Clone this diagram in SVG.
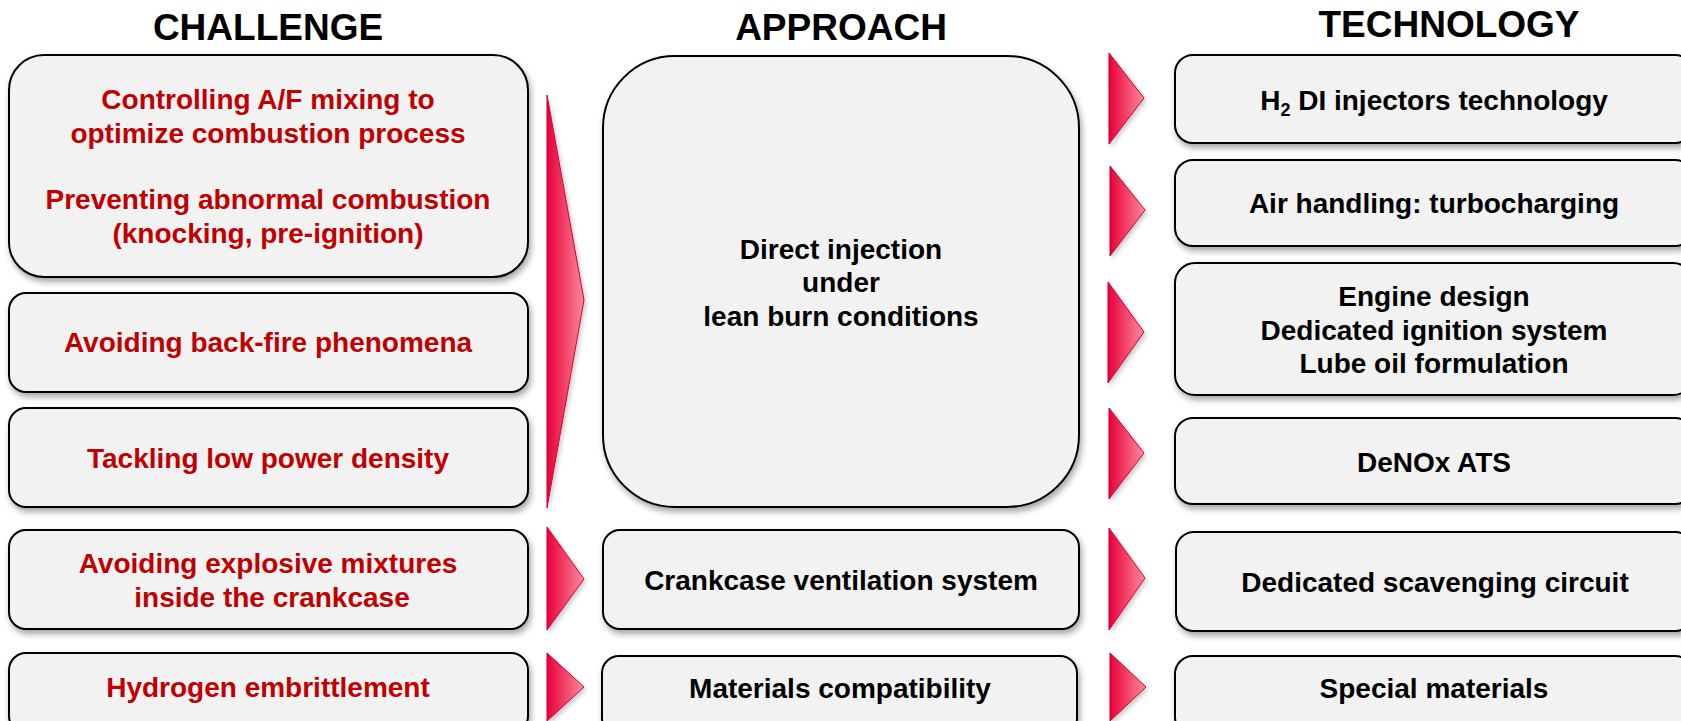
<svg xmlns="http://www.w3.org/2000/svg" width="1681" height="721" viewBox="0 0 1681 721">
  <defs>
    <linearGradient id="arrowGrad" x1="0" y1="0" x2="1" y2="0">
      <stop offset="0" stop-color="#e6003a"/>
      <stop offset="1" stop-color="#ff8a9b"/>
    </linearGradient>
    <filter id="shadow" x="-5%" y="-10%" width="110%" height="130%">
      <feDropShadow dx="2" dy="4" stdDeviation="3" flood-color="#000" flood-opacity="0.35"/>
    </filter>
    <filter id="ashadow" x="-20%" y="-10%" width="150%" height="130%">
      <feDropShadow dx="2" dy="3" stdDeviation="2" flood-color="#000" flood-opacity="0.2"/>
    </filter>
  </defs>
  <style>
    .box { fill: #f2f2f2; stroke: #000; stroke-width: 2; filter: url(#shadow); }
    .arrow { fill: url(#arrowGrad); stroke: #d4002f; stroke-width: 1; stroke-linejoin: miter; filter: url(#ashadow); }
    .head { font-family: "Liberation Sans", Arial, sans-serif; font-weight: bold; font-size: 37px; fill: #000; text-anchor: middle; }
    .red { font-family: "Liberation Sans", Arial, sans-serif; font-weight: bold; font-size: 28px; fill: #c00000; text-anchor: middle; }
    .blk { font-family: "Liberation Sans", Arial, sans-serif; font-weight: bold; font-size: 28px; fill: #000; text-anchor: middle; }
  </style>
  <rect width="1681" height="721" fill="#fff"/>

  <g id="headings">
    <text class="head" x="268" y="40">CHALLENGE</text>
    <text class="head" x="841" y="40">APPROACH</text>
    <text class="head" x="1449" y="37">TECHNOLOGY</text>
  </g>

  <g id="connectors">
    <polygon class="arrow" points="547,95 584,300 547,508"/>
    <polygon class="arrow" points="547,527 584,579 547,630"/>
    <polygon class="arrow" points="547,653 584,687 547,721"/>
    <polygon class="arrow" points="1109,53 1144,98 1109,144"/>
    <polygon class="arrow" points="1110,166 1145,210 1110,256"/>
    <polygon class="arrow" points="1108,282 1144,332 1108,383"/>
    <polygon class="arrow" points="1109,408 1144,453 1109,499"/>
    <polygon class="arrow" points="1109,528 1145,578 1109,630"/>
    <polygon class="arrow" points="1110,653 1146,687 1110,721"/>
  </g>

  <g id="challenge-1">
    <rect class="box" x="9" y="55" width="519" height="222" rx="35" ry="35"/>
    <text class="red" x="268" y="109">Controlling A/F mixing to</text>
    <text class="red" x="268" y="143">optimize combustion process</text>
    <text class="red" x="268" y="209">Preventing abnormal combustion</text>
    <text class="red" x="268" y="243">(knocking, pre-ignition)</text>
  </g>
  <g id="challenge-2">
    <rect class="box" x="9" y="293" width="519" height="99" rx="17" ry="17"/>
    <text class="red" x="268" y="352">Avoiding back-fire phenomena</text>
  </g>
  <g id="challenge-3">
    <rect class="box" x="9" y="408" width="519" height="99" rx="17" ry="17"/>
    <text class="red" x="268" y="468">Tackling low power density</text>
  </g>
  <g id="challenge-4">
    <rect class="box" x="9" y="530" width="519" height="99" rx="17" ry="17"/>
    <text class="red" x="268" y="573">Avoiding explosive mixtures</text>
    <text class="red" x="272" y="607">inside the crankcase</text>
  </g>
  <g id="challenge-5">
    <rect class="box" x="9" y="653" width="519" height="80" rx="17" ry="17"/>
    <text class="red" x="268" y="697">Hydrogen embrittlement</text>
  </g>

  <g id="approach-1">
    <rect class="box" x="603" y="56" width="476" height="451" rx="72" ry="72"/>
    <text class="blk" x="841" y="259">Direct injection</text>
    <text class="blk" x="841" y="292">under</text>
    <text class="blk" x="841" y="326">lean burn conditions</text>
  </g>
  <g id="approach-2">
    <rect class="box" x="603" y="530" width="476" height="99" rx="17" ry="17"/>
    <text class="blk" x="841" y="590">Crankcase ventilation system</text>
  </g>
  <g id="approach-3">
    <rect class="box" x="602" y="656" width="475" height="80" rx="17" ry="17"/>
    <text class="blk" x="840" y="698">Materials compatibility</text>
  </g>

  <g id="technology-1">
    <rect class="box" x="1175" y="55" width="518" height="88" rx="18" ry="18"/>
    <text class="blk" x="1434" y="110">H<tspan font-size="18" dy="6">2</tspan><tspan dy="-6"> DI injectors technology</tspan></text>
  </g>
  <g id="technology-2">
    <rect class="box" x="1175" y="160" width="518" height="86" rx="18" ry="18"/>
    <text class="blk" x="1434" y="213">Air handling: turbocharging</text>
  </g>
  <g id="technology-3">
    <rect class="box" x="1175" y="263" width="518" height="132" rx="20" ry="20"/>
    <text class="blk" x="1434" y="306">Engine design</text>
    <text class="blk" x="1434" y="340">Dedicated ignition system</text>
    <text class="blk" x="1434" y="373">Lube oil formulation</text>
  </g>
  <g id="technology-4">
    <rect class="box" x="1175" y="418" width="518" height="86" rx="18" ry="18"/>
    <text class="blk" x="1434" y="472">DeNOx ATS</text>
  </g>
  <g id="technology-5">
    <rect class="box" x="1176" y="532" width="517" height="99" rx="18" ry="18"/>
    <text class="blk" x="1435" y="592">Dedicated scavenging circuit</text>
  </g>
  <g id="technology-6">
    <rect class="box" x="1175" y="656" width="518" height="80" rx="18" ry="18"/>
    <text class="blk" x="1434" y="698">Special materials</text>
  </g>
</svg>
